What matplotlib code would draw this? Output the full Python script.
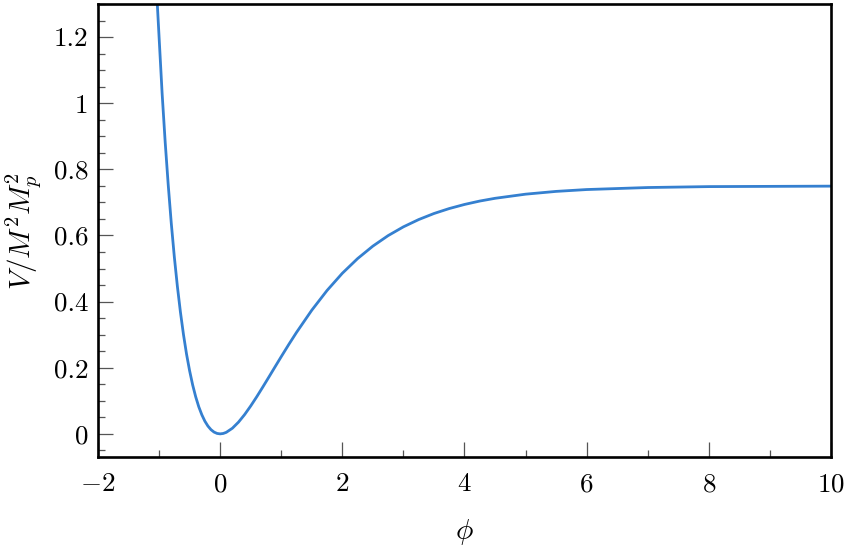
import matplotlib
matplotlib.use("Agg")
import matplotlib.pyplot as plt
from matplotlib.ticker import MultipleLocator

plt.rcParams['font.family'] = 'serif'
plt.rcParams['font.serif'] = ['cmr10', 'DejaVu Serif']
plt.rcParams['mathtext.fontset'] = 'cm'
plt.rcParams['axes.formatter.use_mathtext'] = True

# values
phi = [-1.03, -0.95, -0.9, -0.85, -0.8, -0.75, -0.7, -0.65, -0.6, -0.55, -0.5,
       -0.45, -0.4, -0.35, -0.3, -0.25, -0.2, -0.15, -0.1, -0.05, 0.0,
       0.05, 0.1, 0.2, 0.3, 0.4, 0.5, 0.6, 0.7, 0.8, 0.9, 1.0, 1.125, 1.25, 1.5,
       1.75, 2.0, 2.25, 2.5, 2.75, 3.0, 3.25, 3.5, 3.75, 4.0, 4.25, 4.5, 5.0,
       5.5, 6.0, 7.0, 8.0, 10.0]
V = [1.304, 1.030, 0.883, 0.753, 0.637, 0.535, 0.446, 0.368, 0.300, 0.241, 0.191,
     0.148, 0.112, 0.082, 0.0578, 0.0384, 0.0236, 0.0127, 0.0054, 0.0013, 0.0,
     0.0012, 0.0046, 0.0170, 0.0354, 0.0582, 0.0843, 0.1125, 0.1422, 0.1725, 0.2031,
     0.2335, 0.2708, 0.3068, 0.374, 0.4337, 0.4857, 0.5301, 0.5678, 0.5996, 0.6261,
     0.6481, 0.6664, 0.6814, 0.6938, 0.7041, 0.7124, 0.7249, 0.7333, 0.7389,
     0.7450, 0.7478, 0.7492]

fig = plt.figure(figsize=(8.49, 5.57), dpi=100)
ax = fig.add_axes([0.1154, 0.1795, 0.8634, 0.8133])
ax.plot(phi, V, color="#3580d0", linewidth=2.0)

ax.set_xlim(-2, 10)
ax.set_ylim(-0.07, 1.3)
ax.xaxis.set_major_locator(MultipleLocator(2))
ax.xaxis.set_minor_locator(MultipleLocator(1))
ax.yaxis.set_minor_locator(MultipleLocator(0.05))
ax.set_yticks([0, 0.2, 0.4, 0.6, 0.8, 1.0, 1.2])
ax.set_yticklabels(["0", "0.2", "0.4", "0.6", "0.8", "1", "1.2"])

ax.tick_params(which="both", direction="in", color="#555555", width=0.9,
               labelsize=19.5, top=False, right=False)
ax.tick_params(which="major", length=10.5)
ax.tick_params(axis="x", which="major", pad=11)
ax.tick_params(axis="y", which="major", pad=7)
ax.tick_params(which="minor", length=5)
for s in ax.spines.values():
    s.set_linewidth(1.9)

ax.set_xlabel(r"$\phi$", fontsize=21, labelpad=15)
ax.set_ylabel(r"$V/M^2M_p^2$", fontsize=21, labelpad=7)

fig.savefig("out.png", dpi=100)
